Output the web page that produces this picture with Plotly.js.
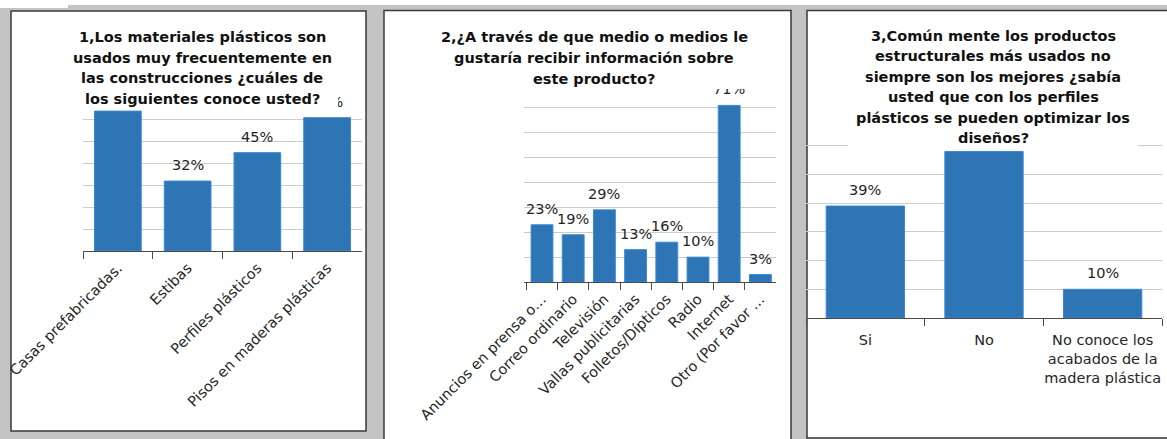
<!DOCTYPE html>
<html>
<head>
<meta charset="utf-8">
<script src="https://cdn.plot.ly/plotly-3.0.1.min.js"></script>
<style>html,body{margin:0;padding:0;background:#c3c3c3;}#chart{width:1167px;height:439px;}</style>
</head>
<body>
<div id="chart"></div>
<script>
// ---------- data ----------
const cats1 = ["Casas prefabricadas.", "Estibas", "Perfiles plásticos", "Pisos en maderas plásticas"];
const vals1 = [64, 32, 45, 61];
const title1 = ["1,Los materiales plásticos son", "usados muy frecuentemente en", "las construcciones ¿cuáles de", "los siguientes conoce usted?"];

const cats2 = ["Anuncios en prensa o…", "Correo ordinario", "Televisión", "Vallas publicitarias", "Folletos/Dípticos", "Radio", "Internet", "Otro (Por favor …"];
const vals2 = [23, 19, 29, 13, 16, 10, 71, 3];
const title2 = ["2,¿A través de que medio o medios le", "gustaría recibir información sobre", "este producto?"];

const cats3 = ["Si", "No", "No conoce los<br>acabados de la<br>madera plástica"];
const vals3 = [39, 58, 10];
const title3 = ["3,Común mente los productos", "estructurales más usados no", "siempre son los mejores ¿sabía", "usted que con los perfiles", "plásticos se pueden optimizar los", "diseños?"];

// ---------- helpers ----------
const W = 1167, H = 439;
const px = x => x / W;
const py = y => 1 - y / H;
const FONT = "DejaVu Sans, Verdana, sans-serif";
const BAR = "#2e75b6", BAREDGE = "#3b88d6";
const TXT = "#1f1f1f";

function barTrace(cats, vals, xa, ya, w) {
  return {type: "bar", x: cats, y: vals, xaxis: xa, yaxis: ya, width: w,
    marker: {color: BAR, line: {color: BAREDGE, width: 1}}, hoverinfo: "skip", showlegend: false};
}
function labelAnns(cats, vals, xr, yr) {
  return cats.map((c, i) => ({x: c, y: vals[i], xref: xr, yref: yr, text: vals[i] + "%",
    showarrow: false, yanchor: "bottom", xanchor: "center", yshift: 6,
    font: {family: FONT, size: 14.5, color: TXT}}));
}
function titleAnns(lines, cx, y0, dy, box) {
  const anns = [{xref: "paper", yref: "paper", x: px((box[0] + box[2]) / 2), y: py((box[1] + box[3]) / 2),
    xanchor: "center", yanchor: "middle", text: "\u00a0", showarrow: false,
    width: box[2] - box[0], height: box[3] - box[1], bgcolor: "#ffffff", borderpad: 0, borderwidth: 0}];
  lines.forEach((t, i) => anns.push({xref: "paper", yref: "paper", x: px(cx), y: py(y0 + i * dy),
    xanchor: "center", yanchor: "middle", text: "<b>" + t + "</b>", showarrow: false,
    font: {family: FONT, size: 14.5, color: "#111"}}));
  return anns;
}
function xAxis(dom, angle) {
  return {domain: dom, type: "category", showgrid: false, zeroline: false, showline: true,
    linecolor: "#4a4a4a", linewidth: 1, ticks: "outside", tickson: "boundaries", ticklen: 7,
    tickcolor: "#4a4a4a", tickwidth: 1, tickangle: angle, automargin: false, fixedrange: true,
    tickfont: {family: FONT, size: 14.5, color: "#262626"}};
}
function yAxis(dom, max, anchor) {
  return {domain: dom, range: [0, max], dtick: 10, tick0: 0, showticklabels: false, ticks: "",
    showline: false, zeroline: false, showgrid: true, gridcolor: "#cbcbcb", gridwidth: 1,
    automargin: false, fixedrange: true, anchor: anchor};
}

const data = [
  barTrace(cats1, vals1, "x", "y", 0.67),
  barTrace(cats2, vals2, "x2", "y2", 0.7),
  barTrace(cats3, vals3, "x3", "y3", 0.66)
];

const panel = (x0, y0, x1, y1) => ({type: "rect", xref: "paper", yref: "paper", layer: "below",
  x0: px(x0), x1: px(x1), y0: py(y1), y1: py(y0), fillcolor: "#ffffff", line: {color: "#3a3a3a", width: 1.5}});

const layout = {
  width: W, height: H, margin: {l: 0, r: 0, t: 0, b: 0},
  paper_bgcolor: "#c3c3c3", plot_bgcolor: "rgba(0,0,0,0)",
  showlegend: false,
  xaxis: Object.assign(xAxis([px(83), px(362)], -45), {anchor: "y", ticklabelstandoff: 2}),
  yaxis: yAxis([py(251), py(98)], 70, "x"),
  xaxis2: Object.assign(xAxis([px(524), px(776)], -45), {anchor: "y2", ticklabelstandoff: 2}),
  yaxis2: yAxis([py(282), py(83)], 80, "x2"),
  xaxis3: Object.assign(xAxis([px(806), px(1162)], 0), {anchor: "y3", ticklabelstandoff: 9}),
  yaxis3: yAxis([py(318), py(117)], 70, "x3"),
  shapes: [
    {type: "rect", xref: "paper", yref: "paper", layer: "below", x0: 0, x1: px(68), y0: py(8), y1: 1,
     fillcolor: "#ffffff", line: {width: 0}},
    {type: "rect", xref: "paper", yref: "paper", layer: "below", x0: px(68), x1: 1, y0: py(5), y1: 1,
     fillcolor: "#ffffff", line: {width: 0}},
    panel(11, 11, 366, 431),
    panel(384, 10.5, 791, 470),
    panel(807, 10.5, 1180, 438)
  ],
  annotations: [].concat(
    labelAnns(cats1, vals1, "x", "y"),
    labelAnns(cats2, vals2, "x2", "y2"),
    labelAnns(cats3, vals3, "x3", "y3"),
    titleAnns(title1, 202, 37, 20.6, [66, 22, 338, 108]),
    titleAnns(title2, 594, 37, 20.8, [431, 22, 757, 89]),
    titleAnns(title3, 993, 36, 20.4, [848, 22, 1138, 148])
  )
};

Plotly.newPlot("chart", data, layout, {staticPlot: true, displayModeBar: false});
</script>
</body>
</html>
